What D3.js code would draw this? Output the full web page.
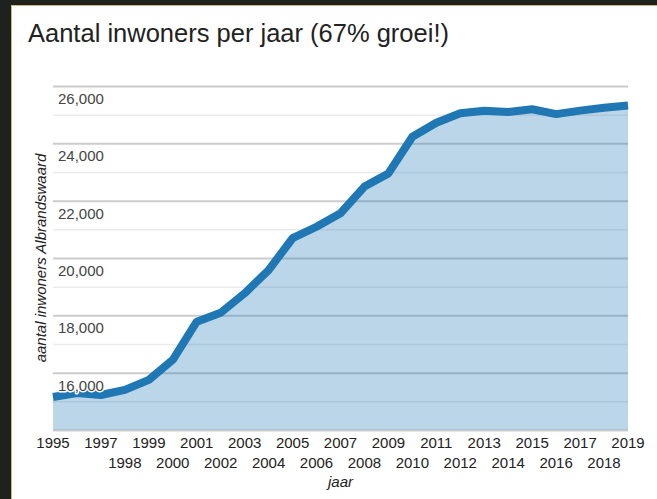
<!DOCTYPE html>
<html>
<head>
<meta charset="utf-8">
<script src="https://cdn.jsdelivr.net/npm/d3@7"></script>
<style>
  body { margin: 0; background: #1e221e; }
  svg { display: block; font-family: Arial, "Liberation Sans", sans-serif; }
</style>
</head>
<body>
<div id="chart"></div>
<script>
// jaar / inwoners
const years = [1995, 1996, 1997, 1998, 1999, 2000, 2001, 2002, 2003, 2004, 2005, 2006,
  2007, 2008, 2009, 2010, 2011, 2012, 2013, 2014, 2015, 2016, 2017, 2018, 2019];
const inwoners = [15150, 15290, 15220, 15400, 15750, 16450, 17780, 18090, 18770, 19580, 20690, 21090,
  21560, 22490, 22950, 24230, 24720, 25050, 25140, 25090, 25190, 25020, 25140, 25240, 25320];
// labels shown on the x axis (1996 is left out, as in the original)
const xLabels = [1995, 1997, 1998, 1999, 2000, 2001, 2002, 2003, 2004, 2005, 2006, 2007,
  2008, 2009, 2010, 2011, 2012, 2013, 2014, 2015, 2016, 2017, 2018, 2019];
const majorTicks = [16000, 18000, 20000, 22000, 24000, 26000];
const minorTicks = [15000, 17000, 19000, 21000, 23000, 25000];

const width = 657, height = 499;
const svg = d3.select("#chart").append("svg")
  .attr("width", width).attr("height", height);

// card with thin gold edge
svg.append("rect").attr("x", 11).attr("y", 5).attr("width", width).attr("height", height).attr("fill", "#cbb878");
svg.append("rect").attr("x", 12).attr("y", 6).attr("width", width).attr("height", height).attr("fill", "#fff");

svg.append("text")
  .attr("x", 28).attr("y", 42)
  .attr("font-size", 25.5).attr("fill", "#222")
  .text("Aantal inwoners per jaar (67% groei!)");

const x = d3.scaleLinear().domain([1995, 2019]).range([53, 628]);
const y = d3.scaleLinear().domain([14000, 26000]).range([430, 86]);

let data = years.map((yr, i) => ({ yr, v: inwoners[i] }));

// gridlines
const grid = svg.append("g");
grid.append("g")
  .attr("transform", `translate(${x.range()[0]},0)`)
  .call(d3.axisLeft(y).tickValues(minorTicks).tickSize(-(x.range()[1] - x.range()[0])).tickFormat(""))
  .call(g => g.select(".domain").remove())
  .call(g => g.selectAll("line").attr("stroke", "#ebebeb").attr("stroke-width", 1.5));
grid.append("g")
  .attr("transform", `translate(${x.range()[0]},0)`)
  .call(d3.axisLeft(y).tickValues(majorTicks.concat([14000])).tickSize(-(x.range()[1] - x.range()[0])).tickFormat(""))
  .call(g => g.select(".domain").remove())
  .call(g => g.selectAll("line").attr("stroke", "#ccc").attr("stroke-width", 2));

// area + line
const area = d3.area()
  .x(d => x(d.yr))
  .y0(y(14000))
  .y1(d => y(d.v));
svg.append("path")
  .datum(data)
  .attr("fill", "#1f77b4")
  .attr("fill-opacity", 0.3)
  .attr("d", area);

const line = d3.line()
  .x(d => x(d.yr))
  .y(d => y(d.v));
svg.append("path")
  .datum(data)
  .attr("fill", "none")
  .attr("stroke", "#1f77b4")
  .attr("stroke-width", 8)
  .attr("stroke-linejoin", "round")
  .attr("d", line);

// y labels (inside, just below their gridline)
svg.append("g").selectAll("text")
  .data(majorTicks)
  .join("text")
  .attr("x", 58)
  .attr("y", d => y(d) + 18)
  .attr("font-size", 15)
  .attr("fill", "#444")
  .attr("stroke", "#fff")
  .attr("stroke-width", 3)
  .attr("stroke-linejoin", "round")
  .attr("paint-order", "stroke")
  .text(d => d3.format(",")(d));

// x labels, two staggered rows
svg.append("g").selectAll("text")
  .data(xLabels)
  .join("text")
  .attr("x", d => x(d))
  .attr("y", d => (d % 2 === 1 ? 448 : 468))
  .attr("text-anchor", "middle")
  .attr("font-size", 15)
  .attr("fill", "#222")
  .text(d => d);

svg.append("text")
  .attr("x", (x.range()[0] + x.range()[1]) / 2)
  .attr("y", 487)
  .attr("text-anchor", "middle")
  .attr("font-size", 15)
  .attr("font-style", "italic")
  .attr("fill", "#222")
  .text("jaar");

svg.append("text")
  .attr("transform", `translate(46,${(y.range()[0] + y.range()[1]) / 2}) rotate(-90)`)
  .attr("text-anchor", "middle")
  .attr("font-size", 15)
  .attr("font-style", "italic")
  .attr("fill", "#222")
  .text("aantal inwoners Albrandswaard");
</script>
</body>
</html>
